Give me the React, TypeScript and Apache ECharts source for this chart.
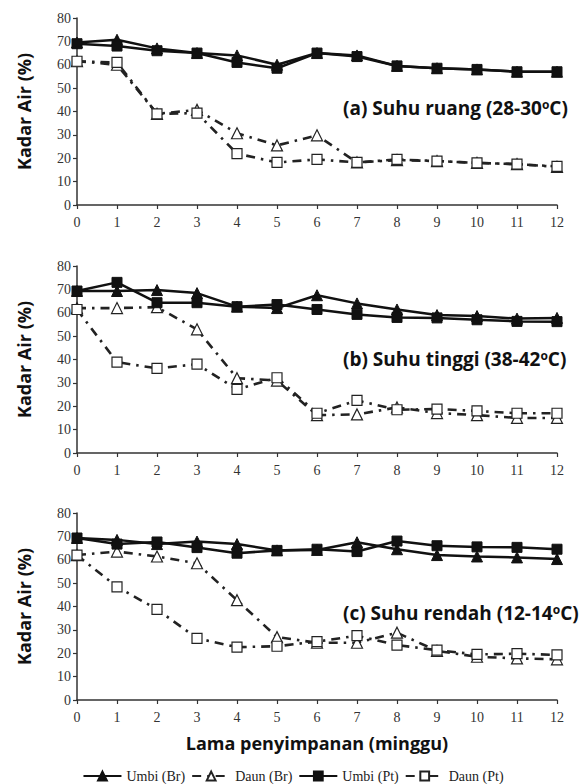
import React, { useEffect, useRef } from "react";
import * as echarts from "echarts";

const weeks = [0, 1, 2, 3, 4, 5, 6, 7, 8, 9, 10, 11, 12];
const yTicks = [0, 10, 20, 30, 40, 50, 60, 70, 80];
const seriesNames = ["Umbi (Br)", "Daun (Br)", "Umbi (Pt)", "Daun (Pt)"];
const panelTitles = ["(a) Suhu ruang (28-30", "(b) Suhu tinggi (38-42", "(c) Suhu rendah (12-14"];
const xTitle = "Lama penyimpanan (minggu)";
const yTitle = "Kadar Air (%)";

// (a) Suhu ruang
const umbiBrA = [69.5, 70.7, 67, 65, 64, 60, 65, 64, 59.5, 58.5, 58, 57, 57];
const daunBrA = [61.5, 60, 39, 40.7, 30.7, 25.5, 29.8, 18.2, 19.2, 18.8, 18, 17.5, 16.3];
const umbiPtA = [69, 68, 66, 65, 61, 58.5, 65, 63.5, 59.5, 58.5, 58, 57, 57];
const daunPtA = [61.5, 61, 39, 39.3, 22, 18.2, 19.5, 18.2, 19.5, 18.8, 18, 17.5, 16.5];

// (b) Suhu tinggi
const umbiBrB = [69.3, 69.3, 69.7, 68.4, 62.6, 62, 67.5, 64, 61.4, 59, 58.6, 57.5, 57.8];
const daunBrB = [62, 62, 62.4, 52.9, 32, 31, 16.2, 16.5, 19.5, 17.1, 16.2, 15, 15];
const umbiPtB = [69.3, 73, 64.3, 64.3, 62.6, 63.5, 61.4, 59.3, 58, 57.8, 57, 56.3, 56.2];
const daunPtB = [61.4, 38.9, 36.2, 38, 27.2, 32.2, 17, 22.5, 18.5, 18.8, 18, 17, 17];

// (c) Suhu rendah
const umbiBrC = [69.3, 68.5, 66.7, 67.8, 66.7, 64, 64.2, 67.5, 64.5, 62, 61.4, 61, 60.3];
const daunBrC = [62, 63.5, 61.4, 58.5, 42.7, 26.9, 24.5, 24.5, 28.8, 21, 18.5, 17.8, 17.4];
const umbiPtC = [69.3, 66.7, 67.6, 65.2, 62.8, 64, 64.5, 63.5, 68, 66, 65.5, 65.3, 64.5];
const daunPtC = [62, 48.4, 38.8, 26.4, 22.6, 23, 25, 27.5, 23.5, 21.3, 19.5, 19.8, 19.3];

const panels = [
  [umbiBrA, daunBrA, umbiPtA, daunPtA],
  [umbiBrB, daunBrB, umbiPtB, daunPtB],
  [umbiBrC, daunBrC, umbiPtC, daunPtC],
];

const gridTops = [18, 266, 513];
const gridHeight = 187;
const annotationY = [111, 362, 616];

const serif = "'Liberation Serif', 'DejaVu Serif', serif";
const sans = "'Open Sans', Lato, sans-serif";

export default function App() {
  const ref = useRef<HTMLDivElement>(null);
  useEffect(() => {
    document.body.style.margin = "0";
    const chart = echarts.init(ref.current!, undefined, { renderer: "svg" });

    const grids = gridTops.map((t) => ({ left: 77, right: 29, top: t, height: gridHeight }));
    const xAxes = gridTops.map((_, i) => ({
      type: "value",
      gridIndex: i,
      min: 0,
      max: 12,
      interval: 1,
      axisLine: { show: true, lineStyle: { color: "#333", width: 1.5 } },
      axisTick: { show: true, length: 4, lineStyle: { color: "#333", width: 1.2 } },
      axisLabel: { fontFamily: serif, fontSize: 14, color: "#333", margin: 10 },
      splitLine: { show: false },
    }));
    const yAxes = gridTops.map((_, i) => ({
      type: "value",
      gridIndex: i,
      min: 0,
      max: 80,
      interval: 10,
      name: yTitle,
      nameLocation: "middle",
      nameGap: 44,
      nameTextStyle: { fontFamily: sans, fontWeight: "bold", fontSize: 18, color: "#111" },
      axisLine: { show: true, lineStyle: { color: "#333", width: 1.5 } },
      axisTick: { show: true, length: 4, lineStyle: { color: "#333", width: 1.2 } },
      axisLabel: {
        fontFamily: serif,
        fontSize: 14,
        color: "#333",
        margin: 6,
        formatter: (v: number) => (yTicks.includes(v) ? String(v) : ""),
      },
      splitLine: { show: false },
    }));

    const series: any[] = [];
    panels.forEach((vals, p) => {
      vals.forEach((arr, s) => {
        const isUmbi = s === 0 || s === 2;
        const isTri = s === 0 || s === 1;
        series.push({
          type: "line",
          name: seriesNames[s],
          xAxisIndex: p,
          yAxisIndex: p,
          data: weeks.map((w, k) => [w, arr[k]]),
          symbol: isTri ? "triangle" : "rect",
          symbolSize: isTri ? 11 : 10,
          itemStyle: isUmbi
            ? { color: "#111", borderColor: "#111", borderWidth: 1 }
            : { color: "#fff", borderColor: "#222", borderWidth: 1.2 },
          lineStyle: isUmbi
            ? { color: "#111", width: 2.5 }
            : { color: "#222", width: 2.6, type: [9, 6, 2.5, 6] },
          z: isUmbi ? 3 : 2,
        });
      });
    });

    const graphics: any[] = panelTitles.map((t, i) => ({
      type: "text",
      left: 343,
      top: annotationY[i] - 13,
      style: {
        text: t + "{sup|o}C)",
        font: `bold 19px ${sans}`,
        fill: "#111",
        rich: {
          sup: { fontSize: 12, fontWeight: "bold", fontFamily: sans, verticalAlign: "top", fill: "#111", padding: [0, 0, 8, 0] },
        },
      },
    }));
    graphics.push({
      type: "text",
      x: 317,
      y: 743,
      style: {
        text: xTitle,
        font: `bold 18px ${sans}`,
        fill: "#111",
        align: "center",
        verticalAlign: "middle",
      },
    });

    chart.setOption({
      animation: false,
      backgroundColor: "#fff",
      grid: grids,
      xAxis: xAxes,
      yAxis: yAxes,
      series,
      legend: {
        data: seriesNames,
        left: "center",
        top: 764,
        itemWidth: 38,
        itemHeight: 11,
        itemGap: 6,
        textStyle: { fontFamily: serif, fontSize: 14, color: "#222" },
      },
      graphic: graphics,
    });
    return () => chart.dispose();
  }, []);
  return <div ref={ref} style={{ width: 586, height: 784 }} />;
}
